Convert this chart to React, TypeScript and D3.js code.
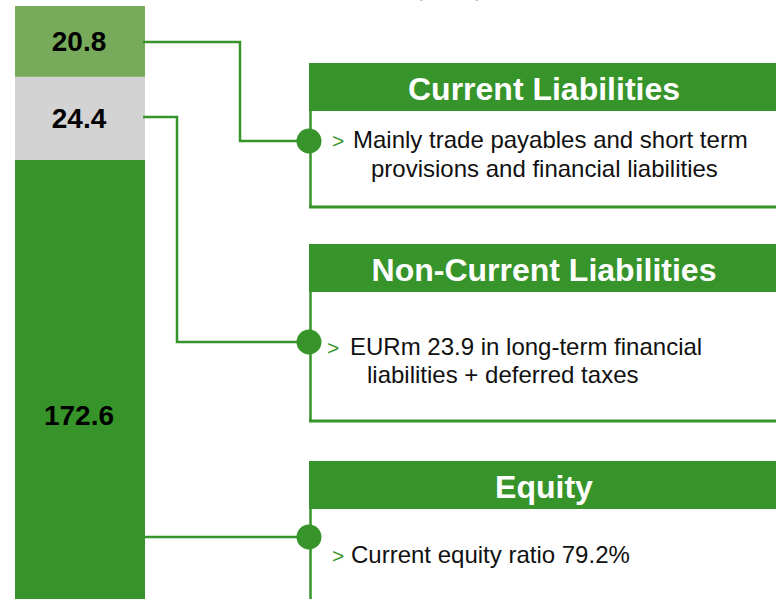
import * as d3 from "d3";

// stacked bar values (EURm), bottom to top
const segmentNames = ["Equity", "Non-Current Liabilities", "Current Liabilities"];
const segmentValues = [172.6, 24.4, 20.8];
const segmentLabels = ["172.6", "24.4", "20.8"];

// callout boxes, top to bottom
const boxTitles = ["Current Liabilities", "Non-Current Liabilities", "Equity"];
const boxLines = [
    ["Mainly trade payables and short term", "provisions and financial liabilities"],
    ["EURm 23.9 in long-term financial", "liabilities + deferred taxes"],
    ["Current equity ratio 79.2%"],
];

const width = 776;
const height = 599;
const green = "#36942a";
const segColors = [green, "#d3d3d3", "#77ab5b"];
const font = "'Liberation Sans', Arial, Helvetica, sans-serif";

// layout of the boxes (top of header, circle y, text offsets)
const boxLayout = [
    {top: 63, bottom: 207, circleY: 141, gtX: 332, textX: [353, 371], baseY: [148, 177]},
    {top: 244, bottom: 421, circleY: 342, gtX: 327, textX: [350, 367], baseY: [355, 383]},
    {top: 461, bottom: 640, circleY: 537, gtX: 332, textX: [351], baseY: [563]},
];
// where each connector leaves the bar and where it turns
const connectorLayout = [
    {fromY: 537, elbowX: null as number | null},
    {fromY: 117, elbowX: 177},
    {fromY: 42, elbowX: 240},
];

export default function App() {
    const total = d3.sum(segmentValues);
    const y = d3.scaleLinear().domain([0, total]).range([748, 6]);
    const barX0 = 15;
    const barX1 = 145;
    const boxX = 309;
    const headerH = 48;

    const stacked = segmentValues.map((v, i) => {
        const start = d3.sum(segmentValues.slice(0, i));
        return {name: segmentNames[i], value: v, y0: start, y1: start + v, i};
    });

    return (
        <svg width={width} height={height} style={{position: "absolute", left: 0, top: 0}}
             fontFamily={font}>
            <rect width={width} height={height} fill="white"/>
            {/* title cut off at the top, as in the source slide */}
            <text x={449} y={-3} fontSize={18} fill="#aaaaaa" textAnchor="middle">(EURm)</text>

            {/* stacked bar */}
            {stacked.map(d => {
                const top = y(d.y1);
                const bot = y(d.y0);
                // label sits in the visible part of the segment
                const mid = d.i === 0 ? (top + 670) / 2 : (top + bot) / 2;
                return (
                    <g key={d.name}>
                        <rect x={barX0} y={top} width={barX1 - barX0} height={bot - top} fill={segColors[d.i]}/>
                        <text x={(barX0 + barX1) / 2 - 1} y={mid + 10} fontSize={28} fontWeight="bold"
                              textAnchor="middle" fill="#000">{segmentLabels[d.i]}</text>
                    </g>
                );
            })}

            {/* boxes */}
            {boxTitles.map((t, k) => {
                const L = boxLayout[k];
                return (
                    <g key={t}>
                        <rect x={boxX} y={L.top} width={width - boxX + 10} height={headerH} fill={green}/>
                        <text x={544} y={L.top + 37} fontSize={32} fontWeight="bold" fill="white"
                              textAnchor="middle">{t}</text>
                        <line x1={boxX + 1.5} x2={boxX + 1.5} y1={L.top + headerH} y2={L.bottom}
                              stroke={green} strokeWidth={2.5}/>
                        {L.bottom < height &&
                            <line x1={boxX} x2={width} y1={L.bottom} y2={L.bottom} stroke={green} strokeWidth={3}/>}
                        <text x={L.gtX} y={L.baseY[0]} fontSize={21} fill={green}>&gt;</text>
                        {boxLines[k].map((ln, j) => (
                            <text key={j} x={L.textX[j]} y={L.baseY[j]} fontSize={24} fill="#111">{ln}</text>
                        ))}
                    </g>
                );
            })}

            {/* connectors: bar segment -> circle on box */}
            {connectorLayout.map((c, i) => {
                const circleY = boxLayout[2 - i].circleY;
                const path = c.elbowX === null
                    ? `M${barX1},${c.fromY}H${boxX}`
                    : `M${barX1 - 2},${c.fromY}H${c.elbowX}V${circleY}H${boxX}`;
                return (
                    <g key={i}>
                        <path d={path} fill="none" stroke={green} strokeWidth={2.5}/>
                        <circle cx={boxX} cy={circleY} r={12.5} fill={green}/>
                    </g>
                );
            })}
        </svg>
    );
}
